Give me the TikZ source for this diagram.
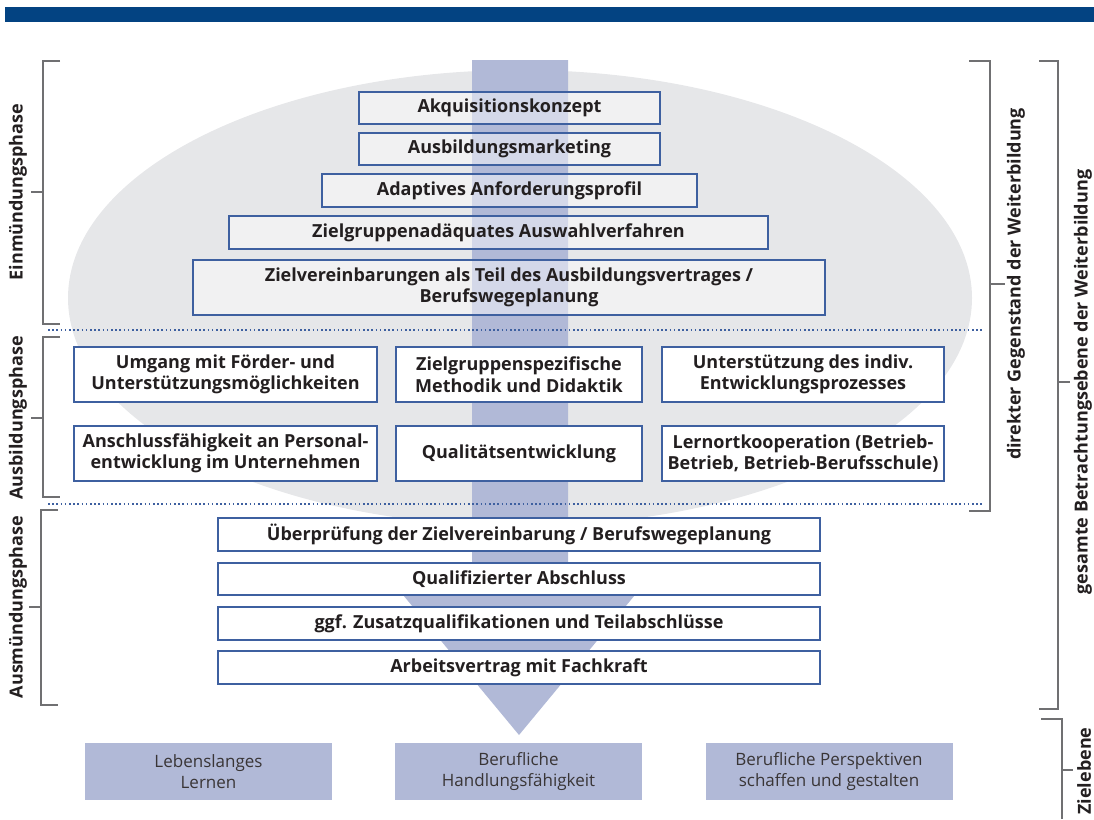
\documentclass[tikz,border=0pt]{standalone}
\usepackage{fontspec}
\setmainfont{Open Sans}
\definecolor{balken}{RGB}{3,67,130}
\definecolor{pfeil}{RGB}{177,185,215}
\definecolor{oval}{RGB}{230,231,233}
\definecolor{rahmen}{RGB}{62,96,160}
\definecolor{klammergrau}{RGB}{112,112,114}
\definecolor{schrift}{RGB}{35,31,32}

\begin{document}
\begin{tikzpicture}[x=1pt,y=-1pt,
	feld/.style={draw=rahmen,line width=1.2pt,inner sep=0pt,align=center,text=schrift,font=\fontsize{18}{21.5}\selectfont\bfseries},
	obenfeld/.style={feld,fill=white,fill opacity=0.45,text opacity=1},
	weissfeld/.style={feld,fill=white},
	zielfeld/.style={fill=pfeil,inner sep=0pt,align=center,text=schrift!90,font=\fontsize{17}{21}\selectfont,minimum width=247pt,minimum height=57pt},
	klammer/.style={draw=klammergrau,line width=1.3pt},
	phase/.style={rotate=90,inner sep=0pt,text=schrift,font=\fontsize{18}{20}\selectfont\bfseries},
	trenner/.style={draw=rahmen,line width=1.6pt,dash pattern=on 1.6pt off 2.6pt}]
	\useasboundingbox (0,0) rectangle (1094,819);
	\fill[balken] (5,7) rectangle (1094,22);
	\fill[oval] (520,298) ellipse [x radius=452, y radius=228];
	\fill[pfeil] (472,60) -- (568,60) -- (568,572) -- (654,572) -- (519,735) -- (384,572) -- (472,572) -- cycle;
	\foreach \y in {330,504} \draw[trenner] (48,\y) -- (982,\y);

	% Einmuendung
	\node[obenfeld, minimum width=301pt, minimum height=32pt] (akquise) at (509.5,108) {Akquisitionskonzept};
	\node[obenfeld, minimum width=301pt, minimum height=32pt] (marketing) at (509.5,149) {Ausbildungsmarketing};
	\node[obenfeld, minimum width=375pt, minimum height=33pt] (profil) at (509.5,190.5) {Adaptives Anforderungsprofil};
	\node[obenfeld, minimum width=539pt, minimum height=33pt] (auswahl) at (498.5,232.5) {Zielgruppenadäquates Auswahlverfahren};
	\node[obenfeld, minimum width=632pt, minimum height=55pt] (vereinbarung) at (509,287.5) {Zielvereinbarungen als Teil des Ausbildungsvertrages /\\Berufswegeplanung};

	% Ausbildung
	\node[weissfeld, minimum width=303pt, minimum height=55pt] (umgang) at (225.5,374.5) {Umgang mit Förder- und\\Unterstützungsmöglichkeiten};
	\node[weissfeld, minimum width=246pt, minimum height=55pt] (methodik) at (519,374.5) {Zielgruppenspezifische\\Methodik und Didaktik};
	\node[weissfeld, minimum width=282pt, minimum height=55pt] (prozesse) at (803,374.5) {Unterstützung des indiv.\\Entwicklungsprozesses};
	\node[weissfeld, minimum width=303pt, minimum height=55pt] (anschluss) at (225.5,453.5) {Anschlussfähigkeit an Personal-\\entwicklung im Unternehmen};
	\node[weissfeld, minimum width=246pt, minimum height=55pt] (qualitaet) at (519,453.5) {Qualitätsentwicklung};
	\node[weissfeld, minimum width=282pt, minimum height=55pt] (lernort) at (803,453.5) {Lernortkooperation (Betrieb-\\Betrieb, Betrieb-Berufsschule)};

	% Ausmuendung
	\node[weissfeld, minimum width=602pt, minimum height=33pt] (pruefung) at (519,534.5) {Überprüfung der Zielvereinbarung / Berufswegeplanung};
	\node[weissfeld, minimum width=602pt, minimum height=32pt] (abschluss) at (519,579) {Qualifizierter Abschluss};
	\node[weissfeld, minimum width=602pt, minimum height=33pt] (zusatz) at (519,623.5) {ggf. Zusatzqualifikationen und Teilabschlüsse};
	\node[weissfeld, minimum width=602pt, minimum height=33pt] (vertrag) at (519,667.5) {Arbeitsvertrag mit Fachkraft};

	% Ziele
	\node[zielfeld] (lernen) at (208.5,771.5) {Lebenslanges\\Lernen};
	\node[zielfeld] (handlung) at (518.5,771.5) {Berufliche\\Handlungsfähigkeit};
	\node[zielfeld] (perspektive) at (829,771.5) {Berufliche Perspektiven\\schaffen und gestalten};

	% Klammern links
	\foreach \x/\a/\b/\m in {43/61/324/192, 43/337/497/418, 41/510/705/607}
		\draw[klammer] (\x+17,\a) -- (\x,\a) -- (\x,\b) -- (\x+17,\b) (\x,\m) -- (\x-12,\m);
	\node[phase] (einm) at (18,192) {Einmündungsphase};
	\node[phase] (ausb) at (18,418) {Ausbildungsphase};
	\node[phase] (ausm) at (18,607) {Ausmündungsphase};

	% Klammern rechts
	\draw[klammer] (969,61) -- (990,61) -- (990,511) -- (969,511) (990,284) -- (1005,284);
	\draw[klammer] (1039,61) -- (1058,61) -- (1058,709) -- (1039,709) (1058,382) -- (1070,382);
	\draw[klammer] (1041,719) -- (1062,719) -- (1062,819) (1062,770) -- (1073,770);
	\node[phase] (direkt) at (1016,284) {direkter Gegenstand der Weiterbildung};
	\node[phase] (gesamt) at (1083,382) {gesamte Betrachtungsebene der Weiterbildung};
	\node[phase] (zielebene) at (1084,771) {Zielebene};
\end{tikzpicture}
\end{document}
